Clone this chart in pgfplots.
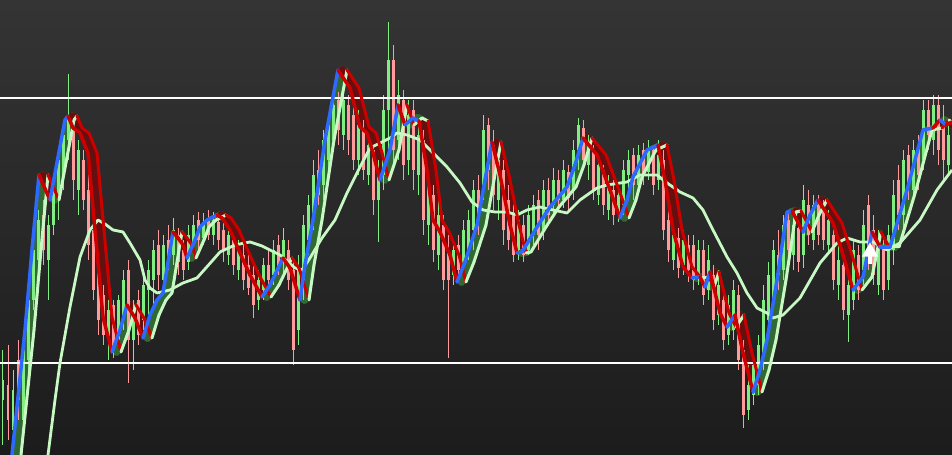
\documentclass[border=0pt]{standalone}
\usepackage{pgfplots}
\usepackage{pgfplotstable}
\pgfplotsset{compat=1.18}
\definecolor{bgtop}{RGB}{52,52,52}
\definecolor{bgbot}{RGB}{28,28,28}
\definecolor{cup}{RGB}{128,238,128}
\definecolor{cdn}{RGB}{255,155,155}
\definecolor{lblue}{RGB}{45,105,255}
\definecolor{lred}{RGB}{205,0,0}
\definecolor{lgrn}{RGB}{200,248,195}
\definecolor{dred}{RGB}{100,16,16}
\definecolor{dgrn}{RGB}{50,105,50}
\pgfplotsset{colormap={dk}{color=(dgrn) color=(dred)}, colormap={ab}{color=(lblue) color=(lred)}, colormap={bg}{color=(lgrn) color=(lred)}}

% up candles: x high low bodytop bodybottom (pixel rows, y reversed)
\pgfplotstableread{
x h l bt bb
3 350 445 380 400
13 370 440 390 430
23 335 430 350 420
28 290 380 300 360
33 240 310 250 300
38 210 290 220 260
48 215 300 225 260
53 180 235 190 225
58 150 220 160 200
63 130 190 135 175
68 74 160 118 140
78 140 215 150 190
108 300 360 310 340
118 295 345 300 340
123 270 330 280 320
133 300 370 310 340
143 275 330 285 320
148 260 320 270 290
153 240 305 250 280
163 235 290 245 280
173 218 265 230 255
188 225 270 235 262
193 215 255 225 245
203 213 245 222 238
213 212 245 220 235
228 225 265 235 255
238 240 280 250 270
258 270 310 280 300
263 258 300 265 290
273 240 285 250 275
283 228 275 240 262
298 255 345 270 330
303 215 300 225 280
308 195 255 205 240
313 160 230 175 215
323 130 200 140 185
328 120 170 125 160
333 95 150 105 140
343 90 150 100 135
358 110 175 125 160
368 135 185 145 175
378 160 242 175 200
383 95 190 110 175
388 22 150 60 110
398 80 160 95 140
408 100 175 115 160
418 120 195 135 175
428 170 245 185 225
438 200 270 215 255
453 240 285 250 275
463 220 275 230 265
468 210 260 220 250
473 180 250 190 230
483 115 200 130 185
498 150 220 160 200
518 210 260 220 250
528 205 255 215 250
533 195 245 205 235
543 180 240 190 230
553 168 215 180 205
563 160 208 170 200
573 140 200 150 190
578 118 170 125 150
588 135 180 145 165
598 155 205 165 195
608 175 220 185 210
618 185 222 195 215
623 160 215 170 205
628 150 200 160 175
638 145 195 155 185
648 140 180 150 172
658 140 190 155 180
673 225 270 235 260
683 230 275 240 265
698 240 285 250 275
708 245 300 260 290
718 270 325 285 315
728 295 345 305 335
733 280 340 290 330
748 365 420 385 410
753 355 405 365 395
758 335 395 345 385
763 285 370 300 355
768 262 330 275 320
773 240 310 250 300
783 215 280 225 270
793 215 270 225 255
803 185 268 200 255
813 195 250 205 240
828 210 255 220 245
838 245 300 260 285
848 270 342 285 315
853 240 310 250 300
863 210 285 225 270
878 230 295 245 285
888 225 290 235 280
893 180 265 195 250
903 150 230 160 215
913 140 200 150 190
923 100 170 110 160
933 95 155 105 140
948 120 175 135 165
}\upc

% down candles
\pgfplotstableread{
x h l bt bb
8 345 440 385 420
18 340 420 360 400
43 200 265 215 250
73 125 200 130 180
83 150 210 160 200
88 175 260 190 245
93 220 300 230 290
98 260 335 270 320
103 285 345 295 335
113 300 358 305 350
128 260 383 270 340
138 290 345 300 335
158 230 290 245 275
168 225 270 240 262
178 228 275 235 262
183 240 280 250 270
198 212 250 220 240
208 210 240 218 235
218 215 250 222 240
223 220 262 230 250
233 235 275 240 265
243 245 290 255 280
248 255 295 265 288
253 265 318 275 305
268 250 290 265 280
278 235 275 245 268
288 240 290 250 280
293 262 365 270 350
318 150 205 170 195
338 92 145 100 130
348 95 155 105 140
353 100 170 115 160
363 120 180 130 170
373 145 215 150 200
393 45 170 60 150
403 90 180 100 165
413 100 190 110 170
423 130 235 140 220
433 185 262 195 250
443 215 290 225 280
448 235 358 250 280
458 235 280 245 270
478 175 235 190 220
488 118 190 125 170
493 130 210 145 195
503 160 245 170 230
508 185 250 200 240
513 205 262 215 255
523 215 262 225 255
538 190 250 200 235
548 178 225 190 215
558 170 212 180 200
568 165 210 172 198
583 120 170 128 160
593 145 200 150 190
603 165 215 170 205
613 180 225 190 215
633 148 200 155 185
643 143 185 150 175
653 145 195 150 185
663 150 240 160 230
668 200 262 220 250
678 228 278 238 268
688 235 282 245 270
693 235 290 245 280
703 240 305 250 295
713 265 330 275 320
723 290 350 300 340
738 285 370 295 360
743 340 428 350 415
778 230 290 255 275
788 210 265 220 250
798 220 272 228 262
808 190 245 205 235
818 195 245 205 235
823 200 250 210 240
833 225 290 235 280
843 255 320 265 310
858 245 300 255 290
868 195 270 205 255
873 215 285 230 275
883 235 300 245 290
898 165 230 180 215
908 145 200 155 185
918 135 190 145 175
928 100 150 110 135
938 95 165 105 150
943 105 180 125 160
}\dnc

% trend line: c = colour of the segment that starts at the point (0 rising, 1 falling)
\pgfplotstableread{
x y c
12 455 0
25 330 0
32 250 0
39 175 1
50 200 0
65 120 0
68 116 1
73 128 1
80 133 1
88 153 1
95 230 1
103 317 1
112 352 0
120 330 0
127 305 1
135 318 1
143 338 0
150 315 0
157 300 0
163 293 0
170 250 0
173 232 1
178 238 1
183 245 1
187 258 0
195 240 0
200 227 0
207 220 0
217 215 1
222 218 1
230 230 1
240 253 1
250 275 1
262 297 0
270 285 0
283 258 1
290 268 1
300 300 0
305 265 0
313 220 0
325 140 0
338 70 1
350 88 1
360 127 1
367 133 1
373 153 1
380 180 0
390 150 0
398 105 1
405 125 0
413 118 0
419 121 1
427 170 1
433 220 1
440 232 1
450 255 1
457 282 0
465 262 0
477 225 0
485 180 0
492 142 1
500 175 1
510 225 1
517 253 0
522 252 0
537 227 0
550 207 0
567 187 0
575 165 0
583 138 1
597 155 1
610 190 1
620 218 0
627 200 0
633 177 0
647 150 0
658 145 1
665 180 1
673 230 1
683 267 1
692 278 0
700 277 1
705 287 0
710 272 1
720 313 1
727 327 0
735 315 1
743 353 1
750 380 1
753 392 0
760 370 0
767 340 0
777 280 0
787 212 0
792 211 1
803 232 0
810 215 0
818 200 1
833 223 1
843 255 1
853 290 0
863 277 0
872 232 1
880 247 0
890 247 0
907 190 0
923 130 0
933 128 1
940 120 0
946 125 1
952 122 1
}\lineA

% slow average
\pgfplotstableread{
x y
48 455
55 400
60 363
70 307
80 257
90 230
98 220
105 224
113 230
123 232
130 243
140 260
145 280
150 288
157 293
170 290
183 283
197 278
213 260
220 252
235 245
250 242
262 246
280 255
295 268
302 270
310 258
322 238
335 220
347 193
360 167
370 148
380 143
390 138
397 133
407 135
420 140
433 153
447 167
460 183
472 202
483 210
495 212
507 212
517 215
527 210
540 207
553 210
567 213
580 200
597 188
607 185
627 182
640 175
657 175
667 183
680 192
693 198
703 210
713 230
727 257
737 273
747 293
757 308
767 313
773 318
783 315
793 305
800 298
820 263
837 243
847 238
860 242
873 242
887 250
900 243
920 220
937 190
952 170
}\slowma

\begin{document}
\begin{tikzpicture}
\begin{axis}[name=ax, width=95.2pt, height=45.5pt, scale only axis,
  xmin=0, xmax=952, ymin=0, ymax=455, y dir=reverse,
  axis line style={draw=none}, ticks=none,
  axis background/.style={shade, top color=bgtop, bottom color=bgbot},
  point meta min=0, point meta max=1, clip=true]
% dark band between trend line and lagged line
\addplot[mesh, colormap name=dk, shader=flat corner, point meta=explicit, line width=0.8pt, line cap=round]
  table[x expr=\thisrow{x}+4.5, y=y, meta=c] \lineA;
% wicks
\addplot[only marks, mark options={draw opacity=0, fill opacity=0}, cup, error bars/.cd, y dir=plus, y explicit, error mark=none, error bar style={line width=0.1pt, cup}]
  table[x=x, y=h, y error plus expr=\thisrow{l}-\thisrow{h}] \upc;
\addplot[only marks, mark options={draw opacity=0, fill opacity=0}, cdn, error bars/.cd, y dir=plus, y explicit, error mark=none, error bar style={line width=0.1pt, cdn}]
  table[x=x, y=h, y error plus expr=\thisrow{l}-\thisrow{h}] \dnc;
% bodies
\addplot[only marks, mark options={draw opacity=0, fill opacity=0}, cup, error bars/.cd, y dir=plus, y explicit, error mark=none, error bar style={line width=0.3pt, cup}]
  table[x=x, y=bt, y error plus expr=\thisrow{bb}-\thisrow{bt}] \upc;
\addplot[only marks, mark options={draw opacity=0, fill opacity=0}, cdn, error bars/.cd, y dir=plus, y explicit, error mark=none, error bar style={line width=0.3pt, cdn}]
  table[x=x, y=bt, y error plus expr=\thisrow{bb}-\thisrow{bt}] \dnc;
% level lines
\addplot[white, line width=0.12pt] coordinates {(0,98) (952,98)};
\addplot[white, line width=0.12pt] coordinates {(0,363) (952,363)};
% slow average
\addplot[lgrn, line width=0.28pt, line join=round] table[x=x, y=y] \slowma;
% lagged line
\addplot[mesh, colormap name=bg, shader=flat corner, point meta=explicit, line width=0.3pt, line cap=round]
  table[x expr=\thisrow{x}+9, y=y, meta=c] \lineA;
% trend line
\addplot[mesh, colormap name=ab, shader=flat corner, point meta=explicit, line width=0.35pt, line cap=round]
  table[x=x, y=y, meta=c] \lineA;
% arrow
\addplot[white, line width=0.4pt] coordinates {(870,254) (870,264)};
\addplot[only marks, mark=triangle*, mark size=0.55pt, white] coordinates {(870,252)};
\end{axis}
\pgfresetboundingbox
\path[use as bounding box] (ax.south west) rectangle (ax.north east);
\end{tikzpicture}
\end{document}
